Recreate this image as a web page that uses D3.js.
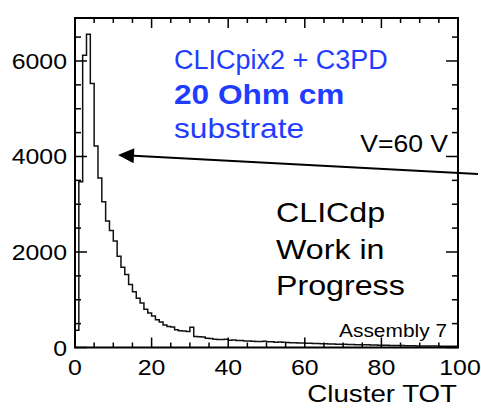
<!DOCTYPE html>
<html>
<head>
<meta charset="utf-8">
<script src="https://cdn.jsdelivr.net/npm/d3@7"></script>
<style>
  html, body { margin: 0; padding: 0; background: #fff; }
  svg { display: block; }
  text { font-family: "Liberation Sans", Arial, Helvetica, sans-serif; }
</style>
</head>
<body>
<script>
// Cluster TOT histogram, one bin per unit of TOT (bins 0..99)
const binLow = d3.range(0, 100);
const counts = [
  360, 3470, 6120, 6560, 5530, 4220, 3550, 3050, 2650, 2450,
  2230, 1910, 1680, 1530, 1320, 1170, 1030, 930, 800, 720,
  660, 580, 535, 470, 440, 430, 370, 350, 345, 335,
  425, 230, 225, 220, 195, 190, 175, 170, 165, 172,
  150, 155, 145, 148, 135, 138, 130, 128, 125, 130,
  118, 120, 112, 115, 108, 104, 100, 98, 95, 96,
  90, 88, 85, 82, 80, 78, 75, 72, 70, 68,
  66, 65, 62, 60, 58, 57, 55, 52, 50, 48,
  47, 45, 44, 42, 40, 40, 38, 37, 35, 34,
  33, 32, 31, 30, 29, 28, 27, 26, 25, 24
];
const xTicks = [0, 20, 40, 60, 80, 100];
const yTicks = [0, 2000, 4000, 6000];
const xDomain = [0, 100];
const yDomain = [0, 6900];

const infoLines = ["CLICpix2 + C3PD", "20 Ohm cm", "substrate"];
const voltageLabel = "V=60 V";
const statusLines = ["CLICdp", "Work in", "Progress"];
const assemblyLabel = "Assembly 7";
const xTitle = "Cluster TOT";

const W = 481, H = 412;
const frame = { left: 75, right: 458, top: 18, bottom: 347.5 };
const SX = 1.13; // horizontal widening of the Helvetica-style lettering

const svg = d3.select("body").append("svg")
  .attr("width", W).attr("height", H)
  .attr("viewBox", `0 0 ${W} ${H}`);

const x = d3.scaleLinear().domain(xDomain).range([frame.left, frame.right]);
const y = d3.scaleLinear().domain(yDomain).range([frame.bottom, frame.top]);

function label(px, py, str, size, opt = {}) {
  return svg.append("text")
    .attr("transform", `translate(${px},${py}) scale(${opt.sx ?? SX},1)`)
    .attr("text-anchor", opt.anchor || "start")
    .attr("font-size", size)
    .attr("font-weight", opt.weight || "normal")
    .attr("fill", opt.fill || "#000")
    .text(str);
}

// Histogram outline as steps
const pts = [[0, 0]];
binLow.forEach((b, i) => { pts.push([b, counts[i]]); pts.push([b + 1, counts[i]]); });
pts.push([100, 0]);
svg.append("path")
  .attr("d", d3.line().x(d => x(d[0])).y(d => y(d[1]))(pts))
  .attr("fill", "none")
  .attr("stroke", "#111")
  .attr("stroke-width", 1.5);

// Frame
svg.append("rect")
  .attr("x", frame.left).attr("y", frame.top)
  .attr("width", frame.right - frame.left).attr("height", frame.bottom - frame.top)
  .attr("fill", "none").attr("stroke", "#000").attr("stroke-width", 2);

// Inward ticks on all four sides
const xMinor = d3.range(0, 101, 5);
const yMinor = d3.range(0, 6901, 500);
const gt = svg.append("g").attr("stroke", "#000").attr("stroke-width", 1.5);
xMinor.forEach(v => {
  const L = v % 20 === 0 ? 10 : 5;
  gt.append("line").attr("x1", x(v)).attr("x2", x(v)).attr("y1", frame.bottom).attr("y2", frame.bottom - L);
  gt.append("line").attr("x1", x(v)).attr("x2", x(v)).attr("y1", frame.top).attr("y2", frame.top + L);
});
yMinor.forEach(v => {
  const L = v % 2000 === 0 ? 12 : 6;
  gt.append("line").attr("y1", y(v)).attr("y2", y(v)).attr("x1", frame.left).attr("x2", frame.left + L);
  gt.append("line").attr("y1", y(v)).attr("y2", y(v)).attr("x1", frame.right).attr("x2", frame.right - L);
});

// Tick labels
yTicks.forEach(d => label(67, y(d) + 8, d, 22, { anchor: "end" }));
xTicks.forEach(d => label(x(d) + (d === 100 ? 2 : 0), 375, d, 22, { anchor: "middle" }));

// Axis title
label(457, 402, xTitle, 24.5, { anchor: "end" });

// Annotations
const blue = "#1f3cff";
label(174, 69, infoLines[0], 27, { fill: blue, sx: 1.0 });
label(174, 104, infoLines[1], 28, { fill: blue, weight: "bold" });
label(174, 138, infoLines[2], 28, { fill: blue });
label(448, 152, voltageLabel, 23.5, { anchor: "end" });

statusLines.forEach((s, i) => label(276, 222 + i * 36.5, s, 28.5));
label(447, 337, assemblyLabel, 18.5, { anchor: "end" });

// Arrow pointing at the peak region
const a0 = [478, 174], a1 = [118, 155];
const ang = Math.atan2(a1[1] - a0[1], a1[0] - a0[0]);
const headLen = 16, headHalf = 7.5;
const bx = a1[0] - headLen * Math.cos(ang), by = a1[1] - headLen * Math.sin(ang);
svg.append("line").attr("x1", a0[0]).attr("y1", a0[1]).attr("x2", bx).attr("y2", by)
  .attr("stroke", "#000").attr("stroke-width", 2);
svg.append("path")
  .attr("d", `M${a1[0]},${a1[1]} L${bx - headHalf * Math.sin(ang)},${by + headHalf * Math.cos(ang)} L${bx + headHalf * Math.sin(ang)},${by - headHalf * Math.cos(ang)} Z`)
  .attr("fill", "#000");
</script>
</body>
</html>
